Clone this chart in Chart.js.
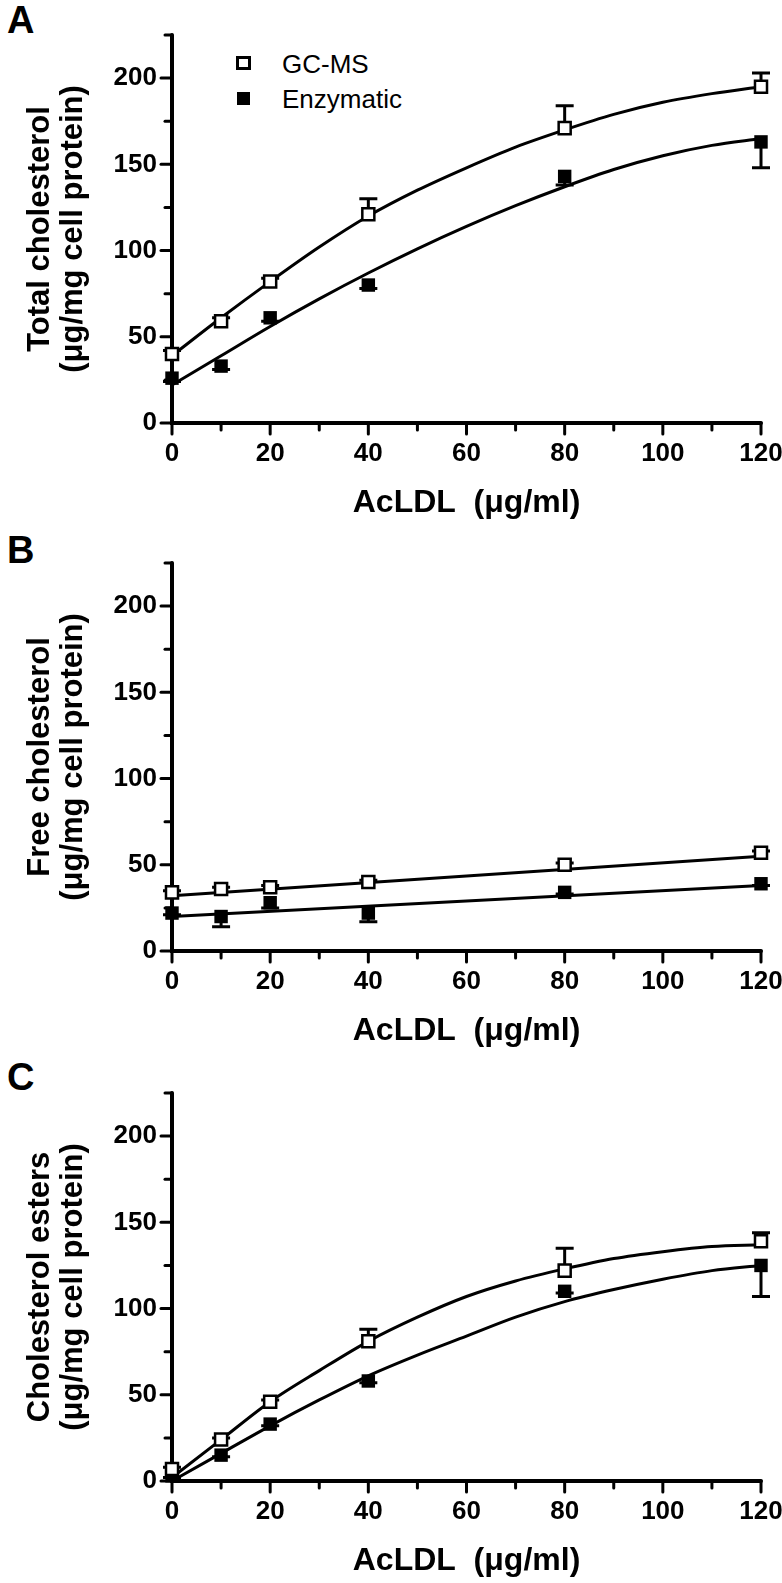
<!DOCTYPE html>
<html>
<head>
<meta charset="utf-8">
<script src="https://cdn.jsdelivr.net/npm/chart.js@4.4.1/dist/chart.umd.min.js"></script>
<style>
  body { margin: 0; background: #fff; width: 782px; height: 1583px; position: relative; overflow: hidden;
         font-family: "Liberation Sans", Arial, sans-serif; color: #000; }
  canvas { position: absolute; left: 0; }
  .letter { position: absolute; left: 7px; font-size: 38px; font-weight: bold; line-height: 1; }
  .legend { position: absolute; left: 0; font-size: 26px; line-height: 1; }
  .legend span.box { position: absolute; box-sizing: border-box; }
  .legend span.txt { position: absolute; left: 282px; white-space: nowrap; }
</style>
</head>
<body>
<div class="letter" style="top:1px">A</div>
<div class="letter" style="top:531px">B</div>
<div class="letter" style="top:1058px">C</div>

<div class="legend" style="top:0">
  <span class="box" style="left:236px;top:56px;width:15px;height:14px;border:3px solid #000;background:#fff"></span>
  <span class="txt" style="top:51px">GC-MS</span>
  <span class="box" style="left:237px;top:92px;width:13px;height:13px;background:#000"></span>
  <span class="txt" style="top:86px">Enzymatic</span>
</div>

<canvas id="chartA" width="782" height="525" style="top:0"></canvas>
<canvas id="chartB" width="782" height="525" style="top:528px"></canvas>
<canvas id="chartC" width="782" height="525" style="top:1058px"></canvas>

<script>
// AcLDL doses (x)
const doses = [0, 10, 20, 40, 80, 120];
const fitX = [0, 10, 20, 30, 40, 50, 60, 70, 80, 90, 100, 110, 120];
const lineX = [0, 120];

// A: total cholesterol
const totalGcms = [40, 59, 82, 121, 171, 195];
const totalGcmsErr = [2, 2, 2, 9, 13, 8];
const totalEnz = [26, 33, 61, 80, 143, 163];
const totalEnzErr = [2, 2, 2, 2, 5, 15];
const totalGcmsFit = [39, 61, 82, 102, 120, 135, 148, 160, 170, 179, 186, 191, 195];
const totalEnzFit = [22, 39, 56, 72, 87, 101, 114, 126, 137, 147, 155, 161, 165];

// B: free cholesterol
const freeGcms = [34, 36, 37, 40, 50, 57];
const freeGcmsErr = [1, 1, 1, 1, 1, 1];
const freeEnz = [22, 20, 28, 22, 34, 39];
const freeEnzErr = [1, 6, 3, 5, 1, 1];
const freeGcmsFit = [32, 55];
const freeEnzFit = [20, 38];

// C: cholesterol esters
const estGcms = [7, 24, 46, 81, 122, 139];
const estGcmsErr = [1, 1, 1, 7, 13, 5];
const estEnz = [3, 15, 33, 58, 110, 125];
const estEnzErr = [1, 1, 1, 1, 1, 18];
const estGcmsFit = [2, 24, 46, 64, 81, 95, 107, 116, 123, 129, 133, 136, 137];
const estEnzFit = [0, 16, 32, 47, 61, 73, 84, 95, 104, 111, 117, 122, 125];

const yTicksLabelled = 50;
const xTicksLabelled = 20;

const FONT = '"Liberation Sans", Arial, sans-serif';

const pairs = (xs, ys) => xs.map((v, i) => ({ x: v, y: ys[i] }));

const axesPlugin = {
  id: 'prismAxes',
  beforeDatasetsDraw(chart) {
    const { ctx, scales: { x, y } } = chart;
    const x0 = x.getPixelForValue(0);
    const y0 = y.getPixelForValue(0);
    ctx.save();
    ctx.strokeStyle = '#000';
    ctx.lineWidth = 4;
    ctx.lineCap = 'round';
    ctx.beginPath();
    ctx.moveTo(x0, y.getPixelForValue(y.max));
    ctx.lineTo(x0, y0);
    ctx.lineTo(x.getPixelForValue(x.max), y0);
    ctx.stroke();
    ctx.lineWidth = 3;
    y.ticks.forEach(t => {
      const p = y.getPixelForValue(t.value);
      const len = t.value % yTicksLabelled === 0 ? 11 : 7;
      ctx.beginPath(); ctx.moveTo(x0 - len, p); ctx.lineTo(x0, p); ctx.stroke();
    });
    x.ticks.forEach(t => {
      const p = x.getPixelForValue(t.value);
      const len = t.value % xTicksLabelled === 0 ? 11 : 7;
      ctx.beginPath(); ctx.moveTo(p, y0); ctx.lineTo(p, y0 + len); ctx.stroke();
    });
    ctx.restore();
  }
};

const errorBarsPlugin = {
  id: 'errorBars',
  beforeDatasetsDraw(chart) {
    const { ctx, scales: { x, y } } = chart;
    ctx.save();
    ctx.strokeStyle = '#000';
    ctx.lineWidth = 3;
    ctx.lineCap = 'butt';
    chart.data.datasets.forEach(ds => {
      if (!ds.errors) return;
      ds.data.forEach((pt, i) => {
        const e = ds.errors[i];
        if (!e) return;
        const px = x.getPixelForValue(pt.x);
        const py = y.getPixelForValue(pt.y);
        const pe = y.getPixelForValue(pt.y + ds.errDir * e);
        ctx.beginPath();
        ctx.moveTo(px, py); ctx.lineTo(px, pe);
        ctx.moveTo(px - 9, pe); ctx.lineTo(px + 9, pe);
        ctx.stroke();
      });
    });
    ctx.restore();
  }
};

function makePanel(id, yTitle, gcms, gcmsErr, enz, enzErr, fx, gcmsFit, enzFit) {
  const ctx = document.getElementById(id).getContext('2d');
  return new Chart(ctx, {
    type: 'scatter',
    data: {
      datasets: [
        { data: pairs(fx, gcmsFit), showLine: true, pointRadius: 0, borderColor: '#000', borderWidth: 3,
          cubicInterpolationMode: 'monotone', order: 3, clip: false },
        { data: pairs(fx, enzFit), showLine: true, pointRadius: 0, borderColor: '#000', borderWidth: 3,
          cubicInterpolationMode: 'monotone', order: 3, clip: false },
        { label: 'GC-MS', data: pairs(doses, gcms), errors: gcmsErr, errDir: 1, pointStyle: 'rect',
          pointRadius: 8.5, borderWidth: 2.5, borderColor: '#000', backgroundColor: '#fff', order: 1, clip: false },
        { label: 'Enzymatic', data: pairs(doses, enz), errors: enzErr, errDir: -1, pointStyle: 'rect',
          pointRadius: 9.5, borderWidth: 0, borderColor: '#000', backgroundColor: '#000', order: 2, clip: false }
      ]
    },
    options: {
      responsive: false,
      animation: false,
      events: [],
      layout: { padding: { top: 35, right: 21, left: 0, bottom: 0 } },
      plugins: { legend: { display: false }, tooltip: { enabled: false } },
      scales: {
        x: {
          type: 'linear', min: 0, max: 120,
          grid: { display: false, drawTicks: false }, border: { display: false },
          ticks: {
            stepSize: 10, autoSkip: false, maxRotation: 0, padding: 15, color: '#000',
            font: { family: FONT, size: 26, weight: 'bold' },
            callback: v => (v % xTicksLabelled === 0 ? v : '')
          },
          title: {
            display: true, text: 'AcLDL  (μg/ml)', color: '#000',
            font: { family: FONT, size: 32, weight: 'bold', lineHeight: 1.2 },
            padding: { top: 0, bottom: 3 }
          },
          afterFit: s => { s.height = 102; s.paddingLeft = 0; s.paddingRight = 0; }
        },
        y: {
          type: 'linear', min: 0, max: 225,
          grid: { display: false, drawTicks: false }, border: { display: false },
          ticks: {
            stepSize: 25, autoSkip: false, padding: 15, color: '#000',
            font: { family: FONT, size: 26, weight: 'bold' },
            callback: v => (v % yTicksLabelled === 0 ? v : '')
          },
          title: {
            display: true, text: yTitle, color: '#000',
            font: { family: FONT, size: 31, weight: 'bold', lineHeight: 1.07 },
            padding: { top: 24, bottom: 0 }
          },
          afterFit: s => { s.width = 172; s.paddingTop = 0; s.paddingBottom = 0; }
        }
      }
    },
    plugins: [axesPlugin, errorBarsPlugin]
  });
}

makePanel('chartA', ['Total cholesterol', '(μg/mg cell protein)'],
  totalGcms, totalGcmsErr, totalEnz, totalEnzErr, fitX, totalGcmsFit, totalEnzFit);
makePanel('chartB', ['Free cholesterol', '(μg/mg cell protein)'],
  freeGcms, freeGcmsErr, freeEnz, freeEnzErr, lineX, freeGcmsFit, freeEnzFit);
makePanel('chartC', ['Cholesterol esters', '(μg/mg cell protein)'],
  estGcms, estGcmsErr, estEnz, estEnzErr, fitX, estGcmsFit, estEnzFit);
</script>
</body>
</html>
